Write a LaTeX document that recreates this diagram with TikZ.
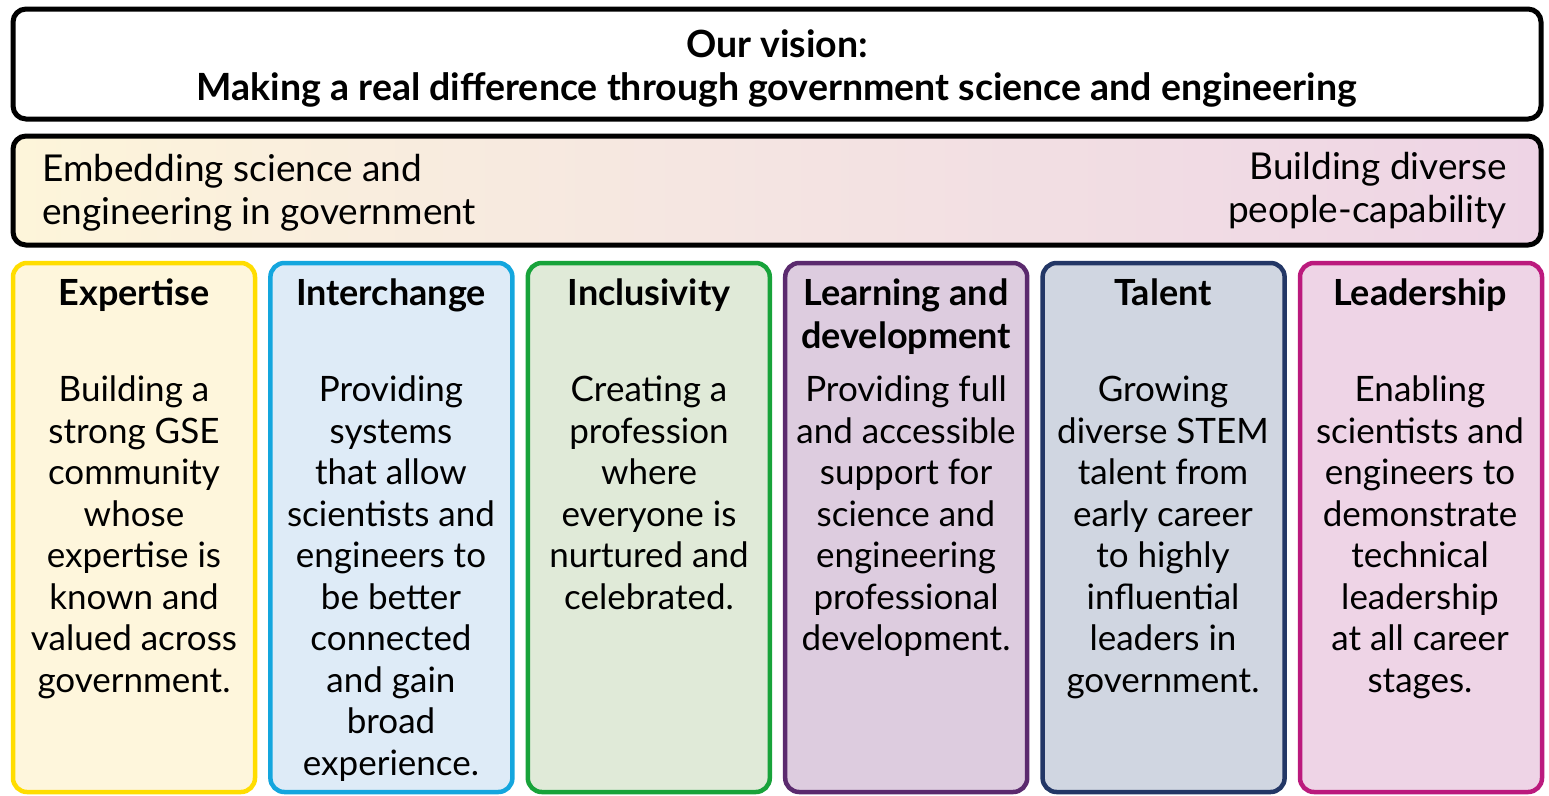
\documentclass[tikz,border=0pt]{standalone}
\usepackage{fontspec}
\setmainfont{Lato}
\begin{document}
\begin{tikzpicture}[x=1pt,y=-1pt,
  frame/.style={draw=black,line width=5pt,rounded corners=13pt},
  col/.style={line width=4.5pt,rounded corners=14pt},
  ttl/.style={font=\fontsize{36}{43}\selectfont\bfseries,align=center,anchor=north,inner sep=0pt},
  body/.style={font=\fontsize{35}{41.5}\selectfont,align=center,anchor=north,inner sep=0pt},
  side/.style={font=\fontsize{37}{43}\selectfont,inner sep=0pt}]
\definecolor{yb}{HTML}{FFDD00}\definecolor{yf}{HTML}{FEF6DC}
\definecolor{bb}{HTML}{14A6DE}\definecolor{bf}{HTML}{DEEBF7}
\definecolor{gb}{HTML}{18A33A}\definecolor{gf}{HTML}{E0EAD8}
\definecolor{pb}{HTML}{5B2A6E}\definecolor{pf}{HTML}{DDCCDF}
\definecolor{nb}{HTML}{233766}\definecolor{nf}{HTML}{D0D6E1}
\definecolor{mb}{HTML}{BB1A7D}\definecolor{mf}{HTML}{EED4E6}
\definecolor{gl}{HTML}{FDF5DA}\definecolor{gm}{HTML}{F4E4E2}\definecolor{gr}{HTML}{EED4E5}
\useasboundingbox (0,0) rectangle (1549,795);
% vision
\draw[frame,fill=white] (13,9) rectangle (1541,119);
\node[font=\fontsize{37.5}{43}\selectfont\bfseries,align=center,inner sep=0pt] (vision) at (777,68)
  {Our vision:\\Making a real difference through government science and engineering};
% gradient band
\path[frame,left color=gl,right color=gr,middle color=gm] (13,136) rectangle (1541,245);
\node[side,align=left,anchor=west] (embed) at (42,193) {Embedding science and\\engineering in government};
\node[side,align=right,anchor=east] (build) at (1507,191) {Building diverse\\people-capability};
% columns
\foreach \i/\b/\f in {0/yb/yf,1/bb/bf,2/gb/gf,3/pb/pf,4/nb/nf,5/mb/mf}{
  \pgfmathsetmacro{\xl}{13+257.4*\i}
  \draw[col,draw=\b,fill=\f] (\xl,263) rectangle ({\xl+242},792);
}
\node[ttl] (t1) at (134,279) {Expertise};
\node[ttl] (t2) at (391,279) {Interchange};
\node[ttl] (t3) at (649,279) {Inclusivity};
\node[ttl] (t4) at (906,279) {Learning and\\development};
\node[ttl] (t5) at (1163,279) {Talent};
\node[ttl] (t6) at (1420,279) {Leadership};
\node[body] (b1) at (134,376) {Building a\\strong GSE\\community\\whose\\expertise is\\known and\\valued across\\government.};
\node[body] (b2) at (391,376) {Providing\\systems\\that allow\\scientists and\\engineers to\\be better\\connected\\and gain\\broad\\experience.};
\node[body] (b3) at (649,376) {Creating a\\profession\\where\\everyone is\\nurtured and\\celebrated.};
\node[body] (b4) at (906,376) {Providing full\\and accessible\\support for\\science and\\engineering\\professional\\development.};
\node[body] (b5) at (1163,376) {Growing\\diverse STEM\\talent from\\early career\\to highly\\influential\\leaders in\\government.};
\node[body] (b6) at (1420,376) {Enabling\\scientists and\\engineers to\\demonstrate\\technical\\leadership\\at all career\\stages.};
\end{tikzpicture}
\end{document}
